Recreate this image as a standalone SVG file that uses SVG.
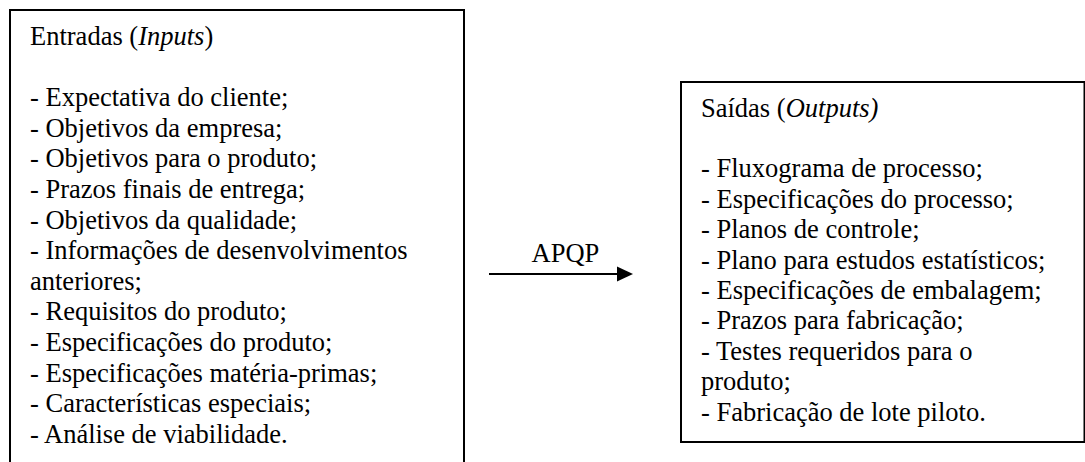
<svg xmlns="http://www.w3.org/2000/svg" width="1085" height="462" viewBox="0 0 1085 462">
<style>
.box{fill:#fff;stroke:#000;stroke-width:2}
.t{font-family:"Liberation Serif","Times New Roman",serif;font-size:26.5px;fill:#000}
.i{font-style:italic}
.conn{stroke:#000;stroke-width:2;fill:none}
</style>
<rect width="1085" height="462" fill="#fff"/>
<g id="inputs">
<rect class="box" x="10" y="10" width="454" height="470"/>
<text class="t" x="30" y="45">Entradas (<tspan class="i">Inputs</tspan>)</text>
<text class="t">
<tspan x="30" y="106.2">- Expectativa do cliente;</tspan>
<tspan x="30" y="136.8">- Objetivos da empresa;</tspan>
<tspan x="30" y="167.4">- Objetivos para o produto;</tspan>
<tspan x="30" y="198">- Prazos finais de entrega;</tspan>
<tspan x="30" y="228.6">- Objetivos da qualidade;</tspan>
<tspan x="30" y="259.2">- Informações de desenvolvimentos</tspan>
<tspan x="30" y="289.8">anteriores;</tspan>
<tspan x="30" y="320.4">- Requisitos do produto;</tspan>
<tspan x="30" y="351">- Especificações do produto;</tspan>
<tspan x="30" y="381.6">- Especificações matéria-primas;</tspan>
<tspan x="30" y="412.2">- Características especiais;</tspan>
<tspan x="30" y="442.8">- Análise de viabilidade.</tspan>
</text>
</g>
<g id="outputs">
<rect class="box" x="681" y="82" width="403.5" height="360"/>
<text class="t" x="701" y="116.5">Saídas (<tspan class="i">Outputs)</tspan></text>
<text class="t">
<tspan x="701" y="177.3">- Fluxograma de processo;</tspan>
<tspan x="701" y="207.7">- Especificações do processo;</tspan>
<tspan x="701" y="238.1">- Planos de controle;</tspan>
<tspan x="701" y="268.5">- Plano para estudos estatísticos;</tspan>
<tspan x="701" y="298.9">- Especificações de embalagem;</tspan>
<tspan x="701" y="329.3">- Prazos para fabricação;</tspan>
<tspan x="701" y="359.7">- Testes requeridos para o</tspan>
<tspan x="701" y="390.1">produto;</tspan>
<tspan x="701" y="420.5">- Fabricação de lote piloto.</tspan>
</text>
</g>
<g id="connectors">
<line class="conn" x1="489" y1="274" x2="618" y2="274"/>
<polygon points="617,266.5 633,274 617,281.5" fill="#000"/>
<text class="t" x="565.5" y="262" text-anchor="middle">APQP</text>
</g>
</svg>
